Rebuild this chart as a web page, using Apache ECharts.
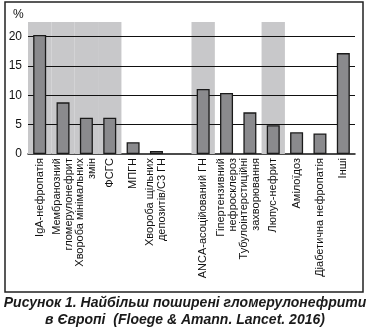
<!DOCTYPE html>
<html><head><meta charset="utf-8">
<script src="https://cdn.jsdelivr.net/npm/echarts@6/dist/echarts.min.js"></script>
<style>html,body{margin:0;padding:0;background:#fff}#c{width:370px;height:334px}</style>
</head><body><div id="c"></div>
<script>
const categories = [
  'IgA-нефропатія',
  'Мембранозний\nгломерулонефрит',
  'Хвороба мінімальних\nзмін',
  'ФСГС',
  'МПГН',
  'Хвороба щільних\nдепозитів/С3 ГН',
  '',
  'ANCA-асоційований ГН',
  'Гіпертензивний\nнефросклероз',
  'Тубулоінтерстиційні\nзахворювання',
  'Люпус-нефрит',
  'Амілоїдоз',
  'Діабетична нефропатія',
  'Інші'
];
const values = [20.3, 8.8, 6.2, 6.2, 2.0, 0.5, null, 11.1, 10.4, 7.1, 4.9, 3.7, 3.5, 17.2];
const highlighted = ['IgA-нефропатія', 'Мембранозний\nгломерулонефрит', 'Хвороба мінімальних\nзмін', 'ФСГС', 'ANCA-асоційований ГН', 'Люпус-нефрит'];
const yTicks = [0, 5, 10, 15, 20];
const yMax = 22.5;
const caption = 'Рисунок 1. Найбільш поширені гломерулонефрити\nв Європі  (Floege & Amann. Lancet. 2016)';

const font = 'Liberation Sans, Arial, sans-serif';
const chart = echarts.init(document.getElementById('c'), null, {renderer: 'canvas'});
const bandData = categories.map(c => highlighted.includes(c) ? yMax : null);

chart.setOption({
  animation: false,
  grid: {left: 28, right: 15, top: 22, bottom: 180, containLabel: false},
  xAxis: [{
    type: 'category', data: categories,
    axisLine: {lineStyle: {color: '#111', width: 1.5}},
    axisTick: {show: false},
    axisLabel: {interval: 0, rotate: 90, fontFamily: font, fontSize: 11, color: '#111', margin: 4, lineHeight: 12}
  }, {
    type: 'category', data: categories, show: false
  }],
  yAxis: {
    type: 'value', min: 0, max: yMax, interval: 5,
    splitLine: {show: false}, axisLine: {show: false}, axisTick: {show: false},
    axisLabel: {fontFamily: font, fontSize: 12, color: '#111', margin: 6,
      formatter: v => yTicks.includes(v) ? String(v) : ''}
  },
  graphic: [
    {type: 'rect', shape: {x: 5, y: 2, width: 358, height: 290}, style: {fill: 'none', stroke: '#222', lineWidth: 1.5}, z: 10},
    {type: 'text', left: 13, top: 9, style: {text: '%', font: '12px ' + font, fill: '#111'}},
    {type: 'text', x: 185, y: 295, style: {text: caption, align: 'center', verticalAlign: 'top',
      font: 'italic bold 14px ' + font, lineHeight: 17, fill: '#1a1a1a'}}
  ],
  series: [{
    type: 'bar', xAxisIndex: 1, data: bandData, barWidth: '100%', z: 1,
    itemStyle: {color: '#c8c8ca'}, silent: true,
    markLine: {
      symbol: 'none', silent: true, z: 2, label: {show: false},
      lineStyle: {color: '#111', width: 1.2, type: 'solid'},
      data: yTicks.filter(t => t > 0).map(t => ({yAxis: t}))
    }
  }, {
    type: 'bar', xAxisIndex: 0, data: values, barWidth: 13, z: 3,
    itemStyle: {color: '#8a8a8d', borderColor: '#1a1a1a', borderWidth: 1.3}
  }]
});
</script></body></html>
